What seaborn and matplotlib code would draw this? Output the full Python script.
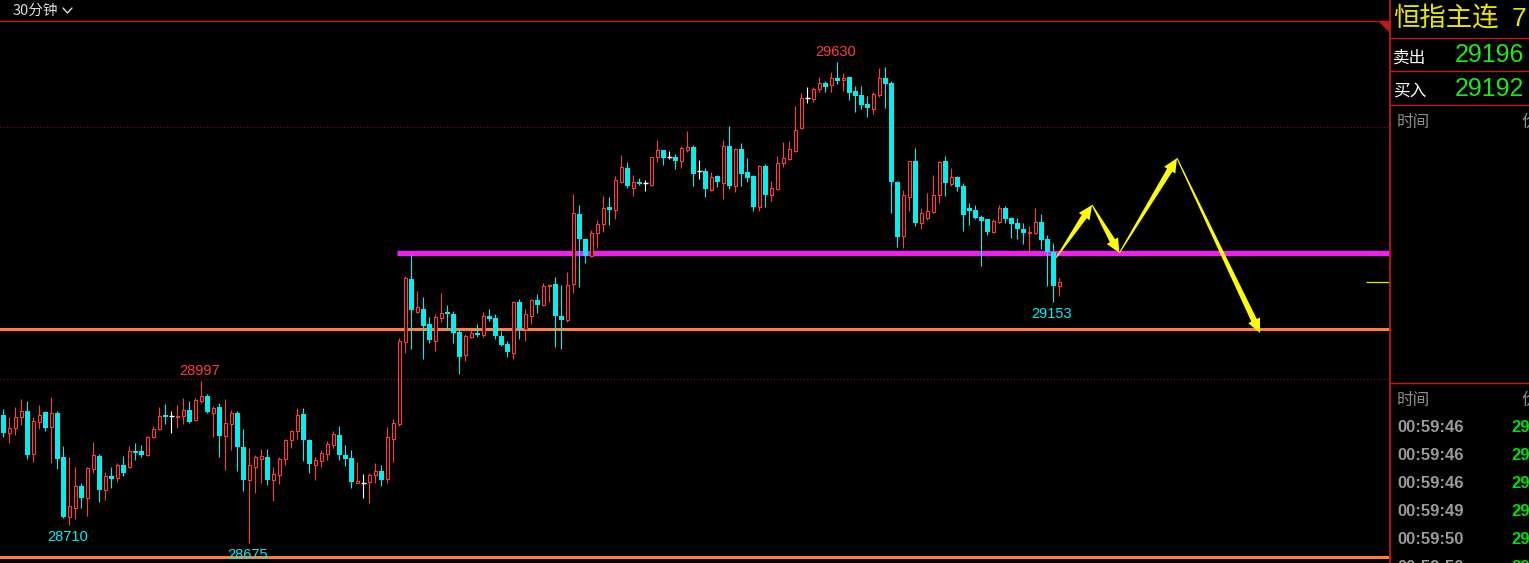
"""30-minute candlestick chart of the HSI continuous contract, dark trading-terminal look."""

import numpy as np
import pandas as pd
import matplotlib
matplotlib.use('Agg')
import matplotlib.pyplot as plt
from matplotlib.lines import Line2D
from matplotlib.patches import Polygon
import seaborn as sns

# --- candles ------------------------------------------------------------------
open_ = [28929, 28894, 28903, 28925, 28937, 28852, 28915, 28935, 28905, 28933,
         28846, 28727, 28745, 28788, 28765, 28822, 28848, 28780, 28808, 28804,
         28830, 28826, 28858, 28858, 28850, 28886, 28901, 28929, 28927, 28925,
         28927, 28939, 28919, 28957, 28967, 28933, 28945, 28888, 28911, 28933,
         28866, 28800, 28826, 28842, 28846, 28800, 28810, 28842, 28880, 28897,
         28931, 28880, 28830, 28838, 28852, 28870, 28890, 28850, 28844, 28794,
         28794, 28796, 28810, 28818, 28802, 28882, 28911, 29074, 29199, 29134,
         29140, 29110, 29076, 29122, 29134, 29130, 29094, 29048, 29084, 29092,
         29088, 29126, 29122, 29086, 29070, 29052, 29154, 29100, 29126, 29158,
         29148, 29185, 29189, 29126, 29118, 29189, 29328, 29279, 29245, 29291,
         29308, 29342, 29336, 29392, 29420, 29380, 29392, 29390, 29386, 29441,
         29455, 29441, 29441, 29433, 29455, 29461, 29414, 29414, 29376, 29404,
         29390, 29463, 29384, 29457, 29412, 29404, 29342, 29424, 29366, 29378,
         29429, 29437, 29453, 29499, 29558, 29556, 29576, 29588, 29584, 29598,
         29594, 29600, 29572, 29564, 29547, 29537, 29564, 29598, 29588, 29392,
         29285, 29362, 29433, 29310, 29320, 29332, 29366, 29433, 29388, 29402,
         29384, 29340, 29336, 29322, 29318, 29293, 29312, 29340, 29320, 29310,
         29298, 29291, 29291, 29312, 29279, 29253, 29185]
high = [28941, 28925, 28945, 28961, 28957, 28925, 28949, 28937, 28965, 28937,
        28868, 28846, 28826, 28794, 28826, 28876, 28852, 28816, 28826, 28834,
        28848, 28868, 28874, 28870, 28888, 28907, 28945, 28951, 28937, 28949,
        28963, 28957, 28963, 28997, 28971, 28947, 28953, 28961, 28939, 28937,
        28901, 28864, 28850, 28862, 28862, 28826, 28846, 28882, 28899, 28943,
        28943, 28882, 28846, 28860, 28878, 28897, 28907, 28870, 28860, 28836,
        28812, 28814, 28834, 28830, 28905, 28921, 29082, 29205, 29247, 29176,
        29164, 29124, 29130, 29172, 29148, 29136, 29098, 29090, 29098, 29110,
        29134, 29140, 29130, 29096, 29076, 29156, 29160, 29140, 29160, 29170,
        29191, 29189, 29203, 29187, 29213, 29368, 29346, 29280, 29296, 29316,
        29364, 29362, 29404, 29445, 29431, 29406, 29400, 29396, 29442, 29475,
        29456, 29453, 29447, 29463, 29493, 29465, 29436, 29420, 29412, 29406,
        29475, 29503, 29459, 29469, 29439, 29406, 29426, 29428, 29394, 29443,
        29471, 29473, 29543, 29568, 29580, 29580, 29600, 29592, 29610, 29630,
        29608, 29601, 29582, 29582, 29562, 29570, 29618, 29620, 29592, 29394,
        29376, 29434, 29459, 29340, 29370, 29406, 29433, 29443, 29420, 29403,
        29390, 29350, 29346, 29326, 29319, 29318, 29346, 29344, 29322, 29320,
        29310, 29304, 29340, 29328, 29287, 29271, 29201]
low = [28886, 28874, 28890, 28909, 28842, 28836, 28901, 28897, 28834, 28822,
       28725, 28710, 28723, 28745, 28729, 28814, 28757, 28761, 28784, 28796,
       28808, 28824, 28840, 28846, 28848, 28884, 28899, 28911, 28894, 28903,
       28911, 28913, 28917, 28953, 28933, 28886, 28846, 28820, 28860, 28818,
       28778, 28675, 28774, 28794, 28790, 28759, 28792, 28830, 28864, 28882,
       28838, 28814, 28800, 28826, 28840, 28864, 28840, 28828, 28784, 28794,
       28765, 28755, 28794, 28788, 28794, 28836, 28907, 29053, 29061, 29132,
       29041, 29072, 29056, 29114, 29098, 29072, 29011, 29036, 29083, 29084,
       29084, 29116, 29080, 29066, 29044, 29041, 29080, 29076, 29110, 29132,
       29146, 29154, 29065, 29061, 29114, 29172, 29183, 29231, 29243, 29261,
       29293, 29306, 29318, 29390, 29380, 29364, 29386, 29374, 29384, 29431,
       29425, 29437, 29417, 29419, 29451, 29384, 29398, 29362, 29374, 29382,
       29358, 29378, 29372, 29384, 29392, 29334, 29334, 29342, 29354, 29376,
       29421, 29436, 29451, 29497, 29549, 29550, 29570, 29570, 29570, 29586,
       29572, 29555, 29531, 29537, 29521, 29527, 29560, 29539, 29330, 29263,
       29261, 29334, 29304, 29298, 29316, 29330, 29350, 29364, 29384, 29374,
       29294, 29306, 29318, 29225, 29287, 29291, 29310, 29310, 29281, 29279,
       29269, 29255, 29289, 29259, 29185, 29153, 29166]
close = [28894, 28903, 28925, 28937, 28850, 28917, 28929, 28903, 28933, 28842,
         28727, 28749, 28788, 28765, 28824, 28850, 28780, 28808, 28802, 28830,
         28814, 28858, 28854, 28850, 28886, 28901, 28927, 28925, 28927, 28927,
         28939, 28915, 28959, 28967, 28935, 28943, 28888, 28913, 28933, 28866,
         28800, 28830, 28846, 28848, 28800, 28812, 28842, 28880, 28897, 28929,
         28880, 28832, 28840, 28854, 28872, 28892, 28850, 28842, 28796, 28798,
         28794, 28810, 28818, 28800, 28886, 28913, 29076, 29201, 29138, 29144,
         29106, 29078, 29124, 29132, 29130, 29092, 29044, 29086, 29092, 29088,
         29126, 29120, 29086, 29068, 29054, 29154, 29100, 29130, 29158, 29148,
         29185, 29187, 29126, 29118, 29187, 29330, 29279, 29245, 29291, 29308,
         29340, 29336, 29396, 29422, 29384, 29392, 29388, 29390, 29441, 29455,
         29439, 29441, 29433, 29459, 29461, 29408, 29414, 29378, 29402, 29392,
         29463, 29384, 29457, 29408, 29400, 29342, 29424, 29366, 29380, 29429,
         29439, 29457, 29495, 29558, 29558, 29576, 29588, 29580, 29598, 29592,
         29598, 29568, 29562, 29545, 29539, 29566, 29598, 29586, 29392, 29283,
         29366, 29433, 29310, 29330, 29334, 29366, 29431, 29390, 29402, 29382,
         29326, 29334, 29320, 29314, 29293, 29314, 29340, 29318, 29308, 29298,
         29291, 29293, 29312, 29277, 29253, 29185, 29193]

# --- drawn levels and forecast path ---------------------------------------------
grid_levels = [29000, 29500]
support_level = 29100          # orange
resistance_level = 29250       # magenta
bottom_level = 28648           # orange, bottom edge
resistance_start = 65.6        # candle index where magenta line starts
forecast_path = [(175.45, 29241), (181.45, 29346), (186.0, 29251),
                 (195.6, 29439), (209.45, 29092)]

# labelled extremes (candle index)
marked_highs = [33, 139]
marked_lows = [11, 41, 175]

# --- side panel text -------------------------------------------------------------
symbol_name = '恒指主连'
ask_price, bid_price = '29196', '29192'
tick_times = ['00:59:46', '00:59:46', '00:59:46', '00:59:49', '00:59:50', '00:59:50']

UP = '#ff3c3c'
DOWN = '#00f0f0'
MAGENTA = '#f01ef0'
ORANGE = '#ff7f3f'
YELLOW = '#ffff00'
PANEL_RED = '#c01818'
GREY = '#8c8c8c'
GREEN = '#1ee61e'

W, H = 1529, 563
PX_X = 6.0          # pixels per candle
PX_Y = 1 / 1.985    # pixels per index point


def fx(x):
    return x / W


def fy(y):
    return 1 - y / H


def tapered_arrow(ax, p0, p1):
    """Yellow arrow whose shaft widens from tail to head."""
    x0, y0 = p0[0] * PX_X, p0[1] * PX_Y
    x1, y1 = p1[0] * PX_X, p1[1] * PX_Y
    dx, dy = x1 - x0, y1 - y0
    length = np.hypot(dx, dy)
    ux, uy = dx / length, dy / length
    nx, ny = -uy, ux
    head_len, head_w, tail_w, neck_w = 14, 6.5, 0.5, 3.0
    bx, by = x1 - ux * head_len, y1 - uy * head_len
    pts = [(x0 + nx * tail_w, y0 + ny * tail_w),
           (bx + nx * neck_w, by + ny * neck_w),
           (bx + nx * head_w, by + ny * head_w),
           (x1, y1),
           (bx - nx * head_w, by - ny * head_w),
           (bx - nx * neck_w, by - ny * neck_w),
           (x0 - nx * tail_w, y0 - ny * tail_w)]
    pts = [(px / PX_X, py / PX_Y) for px, py in pts]
    ax.add_patch(Polygon(pts, closed=True, facecolor=YELLOW, edgecolor='none', zorder=6))


sns.set_theme(style='dark', rc={'axes.facecolor': 'black', 'figure.facecolor': 'black',
                                'axes.grid': False})
plt.rcParams['font.family'] = ['Noto Sans CJK SC', 'DejaVu Sans']

df = pd.DataFrame({'open': open_, 'high': high, 'low': low, 'close': close})
df['idx'] = np.arange(len(df))
df['kind'] = np.where(df['close'] > df['open'], 'up',
                      np.where(df['close'] < df['open'], 'down', 'flat'))
wick_color = df['kind'].map({'up': UP, 'down': DOWN, 'flat': 'white'})

fig = plt.figure(figsize=(W / 100, H / 100), dpi=100)
fig.patch.set_facecolor('black')
ax = fig.add_axes([0, 0, 1390 / W, 1])
ax.set_facecolor('black')
ax.set_xlim(-0.55, 231.1)
ax.set_ylim(28635.4, 29753)
ax.axis('off')

# levels
for lvl in grid_levels:
    ax.axhline(lvl, color='#8b1010', lw=0.8, ls=(0, (1, 2)), zorder=1)
ax.axhline(support_level, color=ORANGE, lw=2.2, zorder=2)
ax.axhline(bottom_level, color=ORANGE, lw=2.2, zorder=2)
ax.hlines(resistance_level, resistance_start, 231.1, color=MAGENTA, lw=3.8, zorder=2)

# candles
ax.vlines(df['idx'], df['low'], df['high'], colors=wick_color, lw=0.8, zorder=3)
up = df[df['kind'] == 'up']
down = df[df['kind'] == 'down']
flat = df[df['kind'] == 'flat']
ax.bar(up['idx'], np.maximum(up['close'] - up['open'], 1.5), bottom=up['open'],
       width=0.6, facecolor='black', edgecolor=UP, linewidth=0.8, zorder=4)
ax.bar(down['idx'], np.maximum(down['open'] - down['close'], 2.5), bottom=down['close'],
       width=0.78, color=DOWN, linewidth=0, zorder=4)
ax.hlines(flat['close'], flat['idx'] - 0.4, flat['idx'] + 0.4, color='white', lw=1.0, zorder=4)

# last price tick on the right edge
ax.hlines(df['close'].iloc[-1], 227.1, 231.1, color='#e6e600', lw=0.9, zorder=4)

# extreme labels
lbl_font = dict(family=['Liberation Sans'], fontsize=10.5, ha='center', va='center', zorder=7)
for i in marked_highs:
    ax.text(i - 0.3, df['high'][i] + 20, f"{df['high'][i]}", color=UP, **lbl_font)
for i in marked_lows:
    ax.text(i - 0.3, df['low'][i] - 23, f"{df['low'][i]}", color=DOWN, **lbl_font)

# forecast arrows
for p0, p1 in zip(forecast_path[:-1], forecast_path[1:]):
    tapered_arrow(ax, p0, p1)

# frame lines
fig.add_artist(Line2D([0, fx(1390)], [fy(21), fy(21)], color=PANEL_RED, lw=1.0))
fig.add_artist(Line2D([fx(1390), fx(1390)], [0, 1], color=PANEL_RED, lw=1.3))
for y in [37.5, 71, 105, 383]:
    fig.add_artist(Line2D([fx(1390), 1], [fy(y), fy(y)], color=PANEL_RED, lw=1.0))
fig.add_artist(Polygon([(fx(1378), fy(21)), (fx(1390), fy(21)), (fx(1390), fy(33))],
                       closed=True, facecolor=PANEL_RED, edgecolor='none',
                       transform=fig.transFigure))

# period selector
fig.text(fx(13), fy(10.5), '30分钟', color='#dcdcdc', fontsize=10.5, va='center', ha='left')
fig.add_artist(Line2D([fx(63), fx(67.5), fx(72)], [fy(8), fy(13), fy(8)],
                      color='#dcdcdc', lw=1.0))

# side panel
fig.text(fx(1393), fy(19), symbol_name, color='#e6e600', fontsize=19, va='center', ha='left')
fig.text(fx(1512), fy(19), '7', color='#e6e600', fontsize=19, va='center', ha='left',
         family=['Liberation Sans'])
fig.text(fx(1393), fy(58), '卖出', color='white', fontsize=12, va='center', ha='left')
fig.text(fx(1393), fy(92), '买入', color='white', fontsize=12, va='center', ha='left')
fig.text(fx(1524), fy(54.5), ask_price, color=GREEN, fontsize=18, va='center', ha='right',
         family=['Liberation Sans'])
fig.text(fx(1524), fy(89.5), bid_price, color=GREEN, fontsize=18, va='center', ha='right',
         family=['Liberation Sans'])
# column headers and tick rows run past the panel edge, as in the terminal
for y in [122, 400]:
    fig.text(fx(1397), fy(y), '时间', color=GREY, fontsize=12, va='center', ha='left')
    fig.text(fx(1521), fy(y), '价', color=GREY, fontsize=12, va='center', ha='left')
for k, t in enumerate(tick_times):
    y = 428 + 28 * k
    fig.text(fx(1397), fy(y), t, color='#9a9a9a', fontsize=12, fontweight='bold',
             va='center', ha='left', family=['Liberation Sans'])
    fig.text(fx(1511), fy(y), '29', color='#00dd00', fontsize=12, fontweight='bold',
             va='center', ha='left', family=['Liberation Sans'])

fig.savefig('out.png', dpi=100, facecolor='black')
